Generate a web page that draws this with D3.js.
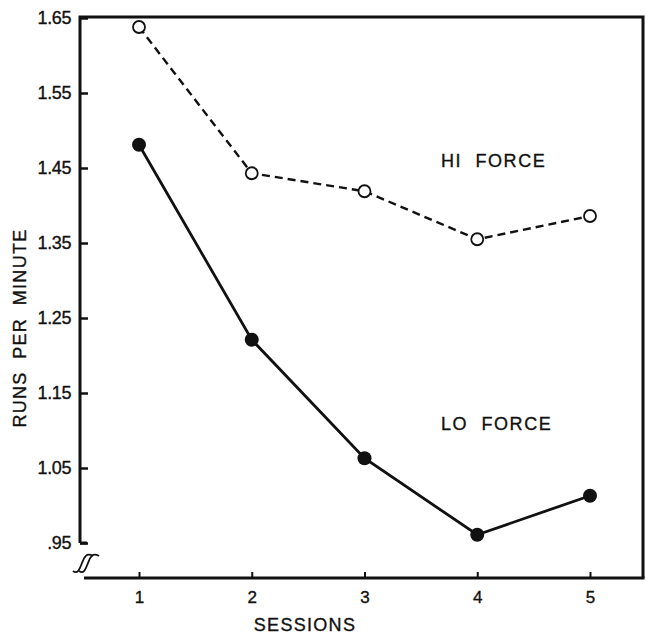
<!DOCTYPE html>
<html>
<head>
<meta charset="utf-8">
<script src="https://cdn.jsdelivr.net/npm/d3@7"></script>
<style>
  body { margin: 0; background: #fff; }
  svg { display: block; }
  text { font-family: "Liberation Sans", Arial, sans-serif; fill: #111; stroke: #111; stroke-width: 0.35px; }
</style>
</head>
<body>
<div id="container"></div>
<script>
var width = 646, height = 636;

// donnees
var sessions = [1, 2, 3, 4, 5];
var hiForce = [1.638, 1.443, 1.419, 1.355, 1.386];
var loForce = [1.481, 1.221, 1.063, 0.961, 1.013];
var yTicks = [0.95, 1.05, 1.15, 1.25, 1.35, 1.45, 1.55, 1.65];
var yLabels = [".95", "1.05", "1.15", "1.25", "1.35", "1.45", "1.55", "1.65"];

// attention : "top" est deja pris par window.top
var mLeft = 80, mTop = 17, mRight = 643, mBottom = 578;

var svg = d3.select("#container")
    .append("svg")
    .attr("width", width)
    .attr("height", height);

var x = d3.scaleLinear().domain([1, 5]).range([139, 590]);
var y = d3.scaleLinear().domain([0.95, 1.65]).range([543, 18]);

// axe Y (graduations vers l'interieur)
var yAxis = svg.append("g")
    .attr("transform", "translate(" + mLeft + ",0)")
    .call(d3.axisLeft(y)
        .tickValues(yTicks)
        .tickSize(-8)
        .tickPadding(9)
        .tickFormat(function(d, i) { return yLabels[i]; }));
yAxis.select(".domain").remove();
yAxis.selectAll("line").attr("stroke", "#111").attr("stroke-width", 2.5);
yAxis.selectAll("text")
    .style("font-size", "18px")
    .style("letter-spacing", "-0.4px")
    .style("font-family", "'Liberation Sans', Arial, sans-serif");

// axe X
var xAxis = svg.append("g")
    .attr("transform", "translate(0," + mBottom + ")")
    .call(d3.axisBottom(x)
        .tickValues(sessions)
        .tickSize(-6)
        .tickPadding(13)
        .tickFormat(d3.format("d")));
xAxis.select(".domain").remove();
xAxis.selectAll("line").attr("stroke", "#111").attr("stroke-width", 2);
xAxis.selectAll("text")
    .style("font-size", "17px")
    .style("font-family", "'Liberation Sans', Arial, sans-serif");

// cadre
var frame = svg.append("g").attr("stroke", "#111").attr("fill", "none");
frame.append("path")
    .attr("stroke-width", 3)
    .attr("d", "M" + mLeft + "," + y(0.95) + "V" + mTop + "H" + mRight + "V" + mBottom);
frame.append("path")
    .attr("stroke-width", 3)
    .attr("d", "M" + (mLeft + 4) + "," + mBottom + "H" + (mRight + 1.5));
frame.append("path")
    .attr("stroke-width", 3)
    .attr("d", "M" + mLeft + "," + y(0.95) + "H" + (mLeft + 7));

// coupure de l'axe
var brk = svg.append("g").attr("stroke", "#111").attr("fill", "none").attr("stroke-width", 1.8);
[0, 6].forEach(function(dx) {
    brk.append("path")
        .attr("d", "M" + (73 + dx) + ",571 C" + (78 + dx) + ",575 " + (80 + dx) + ",568 " + (82 + dx) + ",563"
            + " S" + (86 + dx) + ",552 " + (93 + dx) + ",556");
});

var line = d3.line()
    .x(function(d, i) { return x(sessions[i]); })
    .y(function(d) { return y(d); });

// HI FORCE : tirets, cercles vides
svg.append("path")
    .datum(hiForce)
    .attr("d", line)
    .attr("fill", "none")
    .attr("stroke", "#111")
    .attr("stroke-width", 2.4)
    .attr("stroke-dasharray", "8,5");

svg.selectAll(".hi")
    .data(hiForce)
    .enter()
    .append("circle")
    .attr("class", "hi")
    .attr("cx", function(d, i) { return x(sessions[i]); })
    .attr("cy", function(d) { return y(d); })
    .attr("r", 6)
    .attr("fill", "#fff")
    .attr("stroke", "#111")
    .attr("stroke-width", 1.8);

// LO FORCE : trait plein, cercles pleins
svg.append("path")
    .datum(loForce)
    .attr("d", line)
    .attr("fill", "none")
    .attr("stroke", "#111")
    .attr("stroke-width", 2.8);

svg.selectAll(".lo")
    .data(loForce)
    .enter()
    .append("circle")
    .attr("class", "lo")
    .attr("cx", function(d, i) { return x(sessions[i]); })
    .attr("cy", function(d) { return y(d); })
    .attr("r", 7)
    .attr("fill", "#111");

// etiquettes
svg.append("text")
    .attr("x", 441).attr("y", 167)
    .style("font-size", "18px")
    .style("letter-spacing", "1.6px")
    .style("white-space", "pre")
    .text("HI  FORCE");

svg.append("text")
    .attr("x", 441).attr("y", 430)
    .style("font-size", "18px")
    .style("letter-spacing", "1.6px")
    .style("white-space", "pre")
    .text("LO  FORCE");

svg.append("text")
    .attr("x", 305).attr("y", 631)
    .attr("text-anchor", "middle")
    .style("font-size", "18px")
    .style("letter-spacing", "1.3px")
    .text("SESSIONS");

svg.append("text")
    .attr("transform", "translate(26,328) rotate(-90)")
    .attr("text-anchor", "middle")
    .style("font-size", "18px")
    .style("letter-spacing", "1.3px")
    .style("white-space", "pre")
    .text("RUNS  PER  MINUTE");
</script>
</body>
</html>
